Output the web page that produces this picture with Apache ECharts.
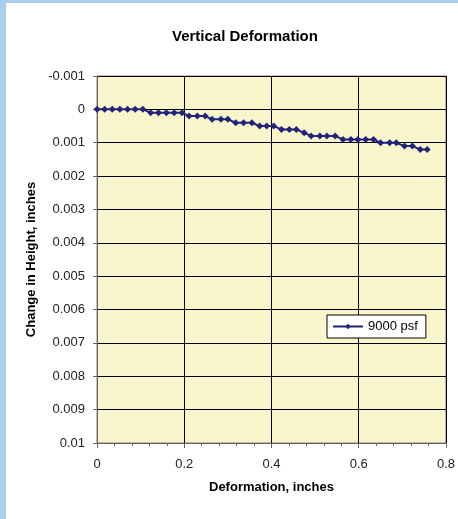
<!DOCTYPE html>
<html>
<head>
<meta charset="utf-8">
<script src="https://cdn.jsdelivr.net/npm/echarts@6/dist/echarts.min.js"></script>
<style>
html,body{margin:0;padding:0;background:#a9cdea;}
#wrap{position:absolute;left:0;top:0;width:458px;height:519px;box-sizing:border-box;border-left:6px solid #a9cdea;border-top:3px solid #a9cdea;background:#fff;}
#chart{width:452px;height:516px;}
</style>
</head>
<body>
<div id="wrap"><div id="chart"></div></div>
<script>
// Data
const titleText = 'Vertical Deformation';
const xAxisTitle = 'Deformation, inches';
const yAxisTitle = 'Change in Height, inches';
const seriesName = '9000 psf';
const deformation = [0, 0.0175, 0.035, 0.0525, 0.07, 0.0875, 0.105, 0.123, 0.141, 0.159, 0.177, 0.195,
  0.211, 0.230, 0.248, 0.264, 0.284, 0.300, 0.318, 0.336, 0.355, 0.373, 0.389, 0.405,
  0.423, 0.441, 0.457, 0.475, 0.491, 0.511, 0.527, 0.546, 0.564, 0.582, 0.598, 0.616,
  0.634, 0.650, 0.671, 0.686, 0.705, 0.723, 0.741, 0.757];
const heightChange = [0, 0, 0, 0, 0, 0, 0, 0.0001, 0.0001, 0.0001, 0.0001, 0.0001,
  0.0002, 0.0002, 0.0002, 0.0003, 0.0003, 0.0003, 0.0004, 0.0004, 0.0004, 0.0005, 0.0005, 0.0005,
  0.0006, 0.0006, 0.0006, 0.0007, 0.0008, 0.0008, 0.0008, 0.0008, 0.0009, 0.0009, 0.0009, 0.0009,
  0.0009, 0.001, 0.001, 0.001, 0.0011, 0.0011, 0.0012, 0.0012];

const font = 'Arial, "Liberation Sans", sans-serif';
const chart = echarts.init(document.getElementById('chart'));
chart.setOption({
  animation: false,
  backgroundColor: '#fff',
  title: {
    text: titleText, left: 161, top: 21,
    textStyle: {fontFamily: font, fontSize: 15, fontWeight: 'bold', color: '#000'}
  },
  legend: {
    data: [seriesName], left: 321, top: 312,
    backgroundColor: '#fff', borderColor: '#000', borderWidth: 1,
    padding: [5, 8, 5, 5], itemWidth: 30, itemHeight: 7, itemGap: 4,
    textStyle: {fontFamily: font, fontSize: 13, color: '#000'}
  },
  grid: {left: 91, right: 9, top: 73, bottom: 76, show: true, backgroundColor: '#faf6cb', borderColor: '#808080', borderWidth: 1},
  xAxis: {
    type: 'value', min: 0, max: 0.8, interval: 0.2,
    name: xAxisTitle, nameLocation: 'middle', nameGap: 38, nameMoveOverlap: false,
    nameTextStyle: {fontFamily: font, fontSize: 13, fontWeight: 'bold', color: '#000'},
    axisLine: {onZero: false, lineStyle: {color: '#666', width: 1}},
    axisTick: {show: true, length: 5, lineStyle: {color: '#666'}},
    minorTick: {show: true, splitNumber: 5, length: 3, lineStyle: {color: '#666'}},
    axisLabel: {fontFamily: font, fontSize: 13, color: '#222', margin: 15,
      formatter: v => String(Number(v.toFixed(4)))},
    splitLine: {show: true, lineStyle: {color: '#000', width: 1}}
  },
  yAxis: {
    type: 'value', inverse: true, min: -0.001, max: 0.01, interval: 0.001,
    name: yAxisTitle, nameLocation: 'middle', nameGap: 59, nameRotate: 90, nameMoveOverlap: false,
    nameTextStyle: {fontFamily: font, fontSize: 13, fontWeight: 'bold', color: '#000'},
    axisLine: {show: true, onZero: false, lineStyle: {color: '#666', width: 1}},
    axisTick: {show: true, length: 4, lineStyle: {color: '#666'}},
    axisLabel: {fontFamily: font, fontSize: 13, color: '#222', margin: 12,
      formatter: v => String(Number(v.toFixed(4)))},
    splitLine: {show: true, lineStyle: {color: '#000', width: 1}}
  },
  series: [{
    name: seriesName, type: 'line',
    data: deformation.map((x, i) => [x, heightChange[i]]),
    symbol: 'diamond', symbolSize: 7,
    lineStyle: {color: '#23237d', width: 2},
    itemStyle: {color: '#23237d'}
  }]
});
</script>
</body>
</html>
